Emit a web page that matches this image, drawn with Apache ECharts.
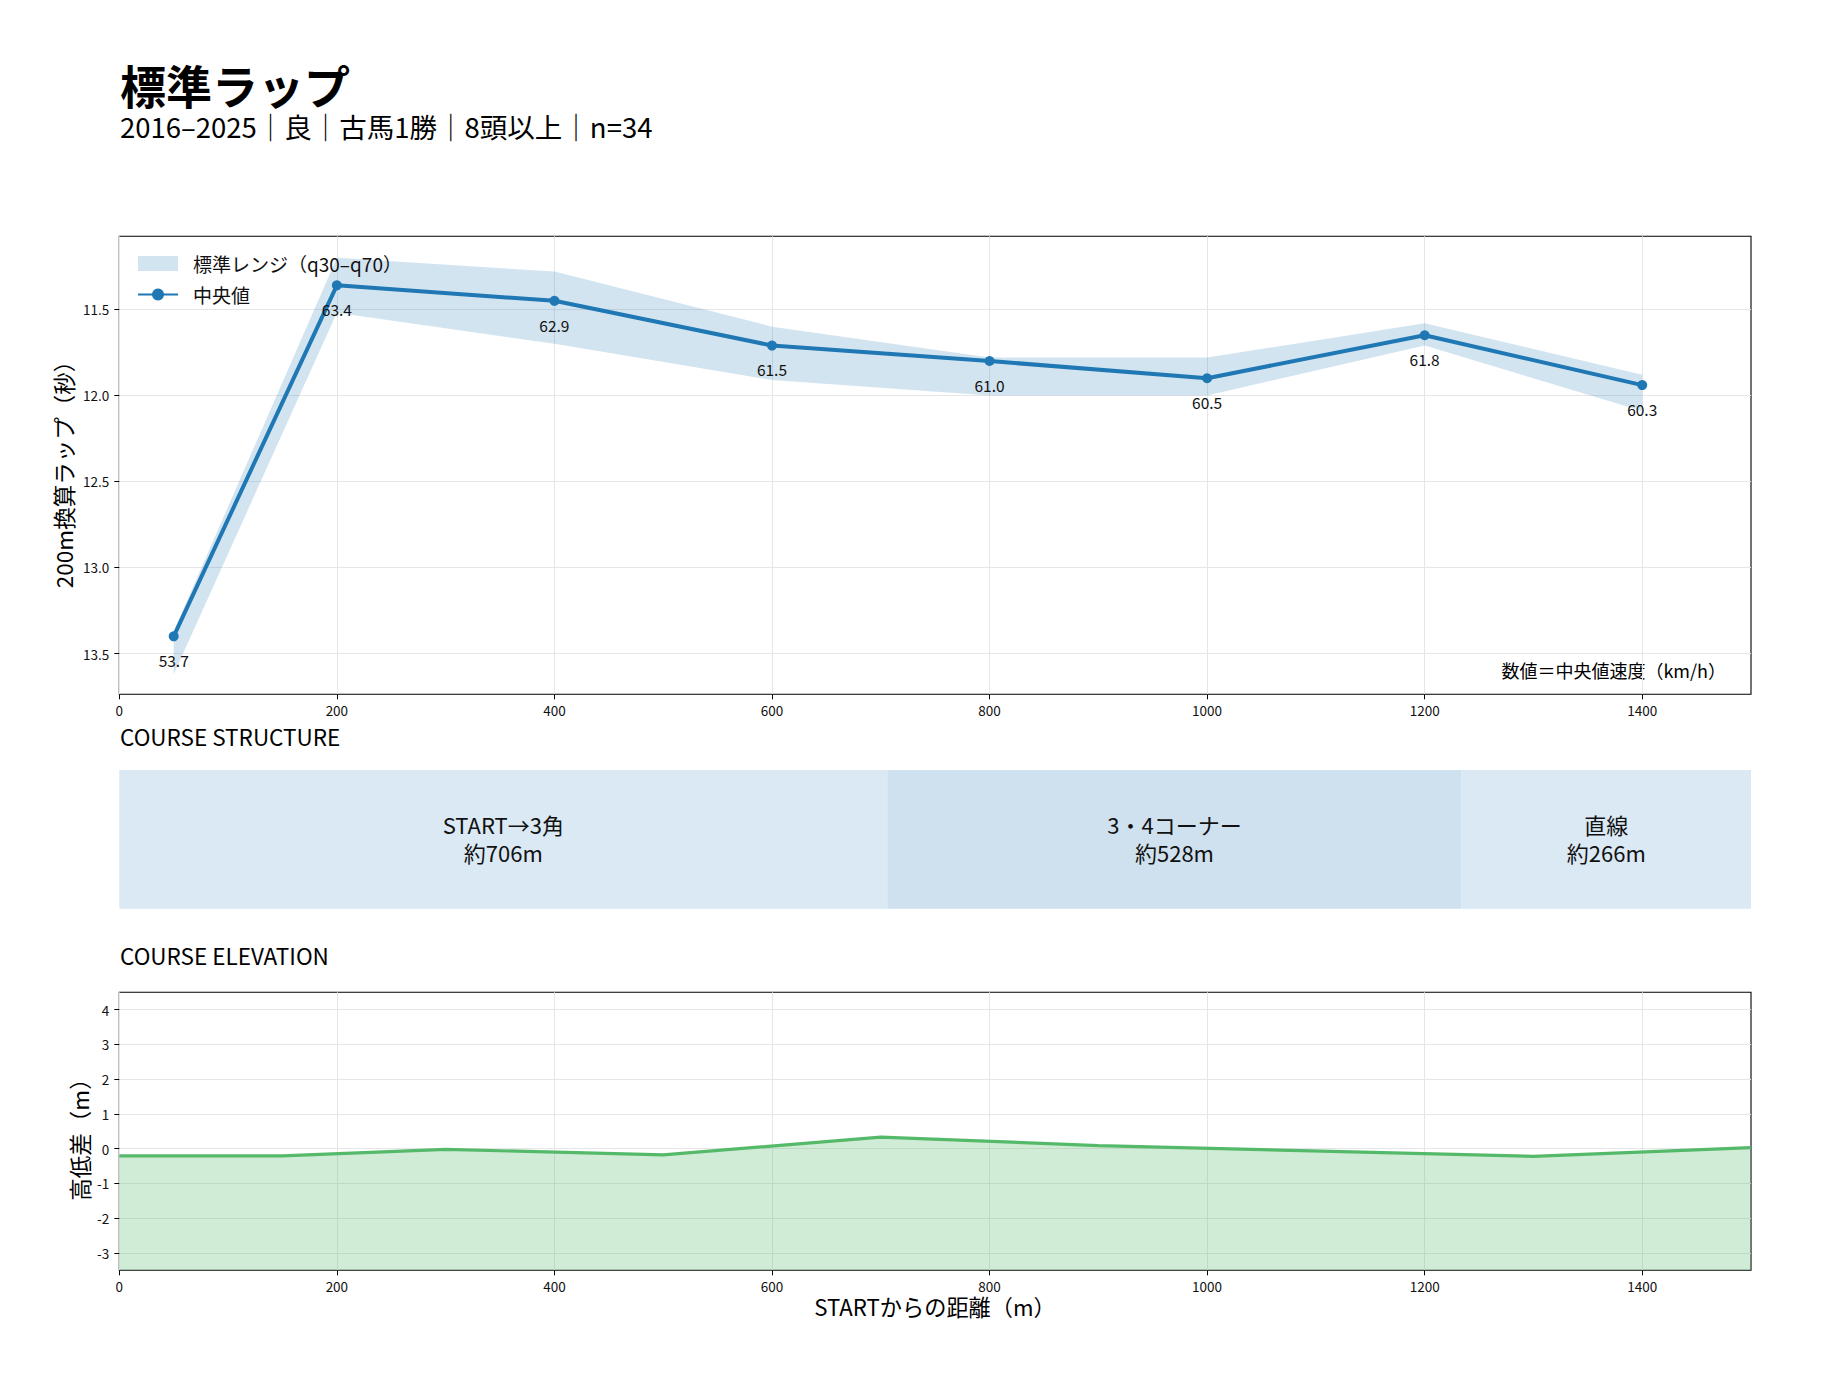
<!DOCTYPE html>
<html>
<head>
<meta charset="utf-8">
<script src="https://cdn.jsdelivr.net/npm/echarts@6/dist/echarts.min.js"></script>
<style>
html,body{margin:0;padding:0;background:#fff;}
#main{width:1834px;height:1388px;}
</style>
</head>
<body>
<div id="main"></div>
<script>
// ---- data ----
const xTicks = [0, 200, 400, 600, 800, 1000, 1200, 1400];
const lapTicks = [11.5, 12.0, 12.5, 13.0, 13.5];
const elevTicks = [-3, -2, -1, 0, 1, 2, 3, 4];

const distances = [50, 200, 400, 600, 800, 1000, 1200, 1400];
const medianLap = [13.40, 11.36, 11.45, 11.71, 11.80, 11.90, 11.65, 11.94];
const q30Lap = [13.37, 11.20, 11.28, 11.60, 11.78, 11.78, 11.58, 11.88];
const q70Lap = [13.62, 11.52, 11.70, 11.91, 12.00, 12.00, 11.71, 12.09];
const speedLabels = ['53.7', '63.4', '62.9', '61.5', '61.0', '60.5', '61.8', '60.3'];

const elevDist = [0, 150, 300, 500, 700, 900, 1300, 1500];
const elevValues = [-0.21, -0.21, -0.02, -0.18, 0.33, 0.09, -0.22, 0.03];

const sectionNames = ['START→3角', '3・4コーナー', '直線'];
const sectionLengths = [706, 528, 266];
const sectionLengthLabels = ['約706m', '約528m', '約266m'];
const sectionColors = ['#dbe9f5', '#cfe1ef', '#dbe9f5'];

// ---- build ----
const FONT = '"Noto Sans CJK JP", "Noto Sans", sans-serif';
const L = 119.3, W = 1631.7;
const chart = echarts.init(document.getElementById('main'), null, {renderer: 'svg'});

const sectionData = [];
let acc = 0;
sectionLengths.forEach((len, i) => { sectionData.push([acc, acc + len, i]); acc += len; });

function xAxisCfg(gi) {
  return {
    type: 'value', gridIndex: gi, min: 0, max: 1500,
    axisLine: {show: false, onZero: false},
    axisTick: {show: true, length: 5, customValues: xTicks, lineStyle: {color: '#000', width: 1}},
    axisLabel: {customValues: xTicks, margin: 9, fontSize: 13.5, color: '#111', fontFamily: FONT,
      formatter: v => String(v)},
    splitLine: {show: true, lineStyle: {color: '#e6e6e6', width: 1}}
  };
}

const option = {
  backgroundColor: '#fff',
  animation: false,
  textStyle: {fontFamily: FONT},
  grid: [
    {left: L, top: 236.3, width: W, height: 458, show: true, borderColor: '#000', borderWidth: 1.1, backgroundColor: 'transparent'},
    {left: L, top: 770, width: W, height: 138.7, show: false},
    {left: L, top: 992.3, width: W, height: 278, show: true, borderColor: '#000', borderWidth: 1.1, backgroundColor: 'transparent'}
  ],
  xAxis: [
    xAxisCfg(0),
    {type: 'value', gridIndex: 1, min: 0, max: 1500, show: false},
    xAxisCfg(2)
  ],
  yAxis: [
    {
      type: 'value', gridIndex: 0, inverse: true, min: 11.075, max: 13.737,
      axisLine: {show: false, onZero: false},
      axisTick: {show: true, length: 5, customValues: lapTicks, lineStyle: {color: '#000'}},
      axisLabel: {customValues: lapTicks, margin: 10, fontSize: 13.5, color: '#111', fontFamily: FONT,
        formatter: v => Number(v).toFixed(1)},
      splitLine: {show: true, lineStyle: {color: '#e6e6e6', width: 1}}
    },
    {type: 'value', gridIndex: 1, min: 0, max: 1, show: false},
    {
      type: 'value', gridIndex: 2, min: -3.5, max: 4.5,
      axisLine: {show: false, onZero: false},
      axisTick: {show: true, length: 5, customValues: elevTicks, lineStyle: {color: '#000'}},
      axisLabel: {customValues: elevTicks, margin: 10, fontSize: 13.5, color: '#111', fontFamily: FONT,
        formatter: v => String(v)},
      splitLine: {show: true, lineStyle: {color: '#e6e6e6', width: 1}}
    }
  ],
  legend: {
    left: 137, top: 254, orient: 'vertical', padding: 0,
    itemWidth: 40, itemHeight: 15, itemGap: 12,
    textStyle: {fontSize: 19, color: '#111', fontFamily: FONT, lineHeight: 18, padding: [0, 0, 0, 10]},
    data: [
      {name: '標準レンジ（q30–q70）', icon: 'rect', itemStyle: {color: 'rgba(31,119,180,0.2)'}},
      {name: '中央値'}
    ]
  },
  graphic: [
    {type: 'text', x: 120, y: 84, style: {text: '標準ラップ', fontSize: 46, lineHeight: 46, fontWeight: 'bold', fontFamily: FONT, fill: '#000', verticalAlign: 'middle'}},
    {type: 'text', x: 120, y: 126, style: {text: '2016–2025｜良｜古馬1勝｜8頭以上｜n=34', fontSize: 27.5, lineHeight: 28, fontFamily: FONT, fill: '#000', verticalAlign: 'middle'}},
    {type: 'text', x: 63, y: 469, rotation: Math.PI / 2, style: {text: '200m換算ラップ（秒）', fontSize: 22.5, fontFamily: FONT, fill: '#000', align: 'center', verticalAlign: 'middle'}},
    {type: 'text', x: 1726, y: 670, style: {text: '数値＝中央値速度（km/h）', fontSize: 18, fontFamily: FONT, fill: '#000', align: 'right', verticalAlign: 'middle'}},
    {type: 'text', x: 120, y: 736, style: {text: 'COURSE STRUCTURE', fontSize: 22.5, fontFamily: FONT, fill: '#000', verticalAlign: 'middle'}},
    {type: 'text', x: 120, y: 955, style: {text: 'COURSE ELEVATION', fontSize: 22.5, fontFamily: FONT, fill: '#000', verticalAlign: 'middle'}},
    {type: 'text', x: 79, y: 1134, rotation: Math.PI / 2, style: {text: '高低差（m）', fontSize: 22.5, fontFamily: FONT, fill: '#000', align: 'center', verticalAlign: 'middle'}},
    {type: 'text', x: 935, y: 1306, style: {text: 'STARTからの距離（m）', fontSize: 22.2, fontFamily: FONT, fill: '#000', align: 'center', verticalAlign: 'middle'}}
  ],
  series: [
    {
      name: '標準レンジ（q30–q70）', type: 'custom', xAxisIndex: 0, yAxisIndex: 0,
      itemStyle: {color: 'rgba(31,119,180,0.2)'},
      data: [[distances[0], q30Lap[0]]],
      z: 1,
      renderItem: function (params, api) {
        if (params.dataIndex !== 0) return null;
        const pts = [];
        for (let i = 0; i < distances.length; i++) pts.push(api.coord([distances[i], q30Lap[i]]));
        for (let i = distances.length - 1; i >= 0; i--) pts.push(api.coord([distances[i], q70Lap[i]]));
        return {type: 'polygon', shape: {points: pts}, style: {fill: 'rgba(31,119,180,0.2)', stroke: 'none'}};
      }
    },
    {
      name: '中央値', type: 'line', xAxisIndex: 0, yAxisIndex: 0,
      data: distances.map((d, i) => [d, medianLap[i]]),
      symbol: 'circle', symbolSize: 10,
      lineStyle: {color: '#1f77b4', width: 4},
      itemStyle: {color: '#1f77b4'},
      z: 3,
      label: {
        show: true, position: 'bottom', distance: 11, fontSize: 15.5, color: '#111', fontFamily: FONT,
        formatter: p => speedLabels[p.dataIndex]
      }
    },
    {
      name: 'structure', type: 'custom', xAxisIndex: 1, yAxisIndex: 1,
      data: sectionData,
      renderItem: function (params, api) {
        const s = api.value(0), e = api.value(1), idx = api.value(2);
        const p0 = api.coord([s, 1]);
        const p1 = api.coord([e, 0]);
        const cx = (p0[0] + p1[0]) / 2, cy = (p0[1] + p1[1]) / 2;
        return {
          type: 'group',
          children: [
            {type: 'rect', shape: {x: p0[0], y: p0[1], width: p1[0] - p0[0], height: p1[1] - p0[1]},
              style: {fill: sectionColors[idx], stroke: 'none'}},
            {type: 'text', x: cx, y: cy - 15.5,
              style: {text: sectionNames[idx], fontSize: 22, lineHeight: 24,
                fontFamily: FONT, fill: '#111', align: 'center', verticalAlign: 'middle'}},
            {type: 'text', x: cx, y: cy + 12.5,
              style: {text: sectionLengthLabels[idx], fontSize: 22, lineHeight: 24,
                fontFamily: FONT, fill: '#111', align: 'center', verticalAlign: 'middle'}}
          ]
        };
      }
    },
    {
      name: 'elevation', type: 'line', xAxisIndex: 2, yAxisIndex: 2,
      data: elevDist.map((d, i) => [d, elevValues[i]]),
      symbol: 'none',
      lineStyle: {color: '#55b96a', width: 3.2},
      areaStyle: {color: 'rgba(85,185,106,0.28)', opacity: 1, origin: 'start'}
    }
  ]
};
chart.setOption(option);
</script>
</body>
</html>
